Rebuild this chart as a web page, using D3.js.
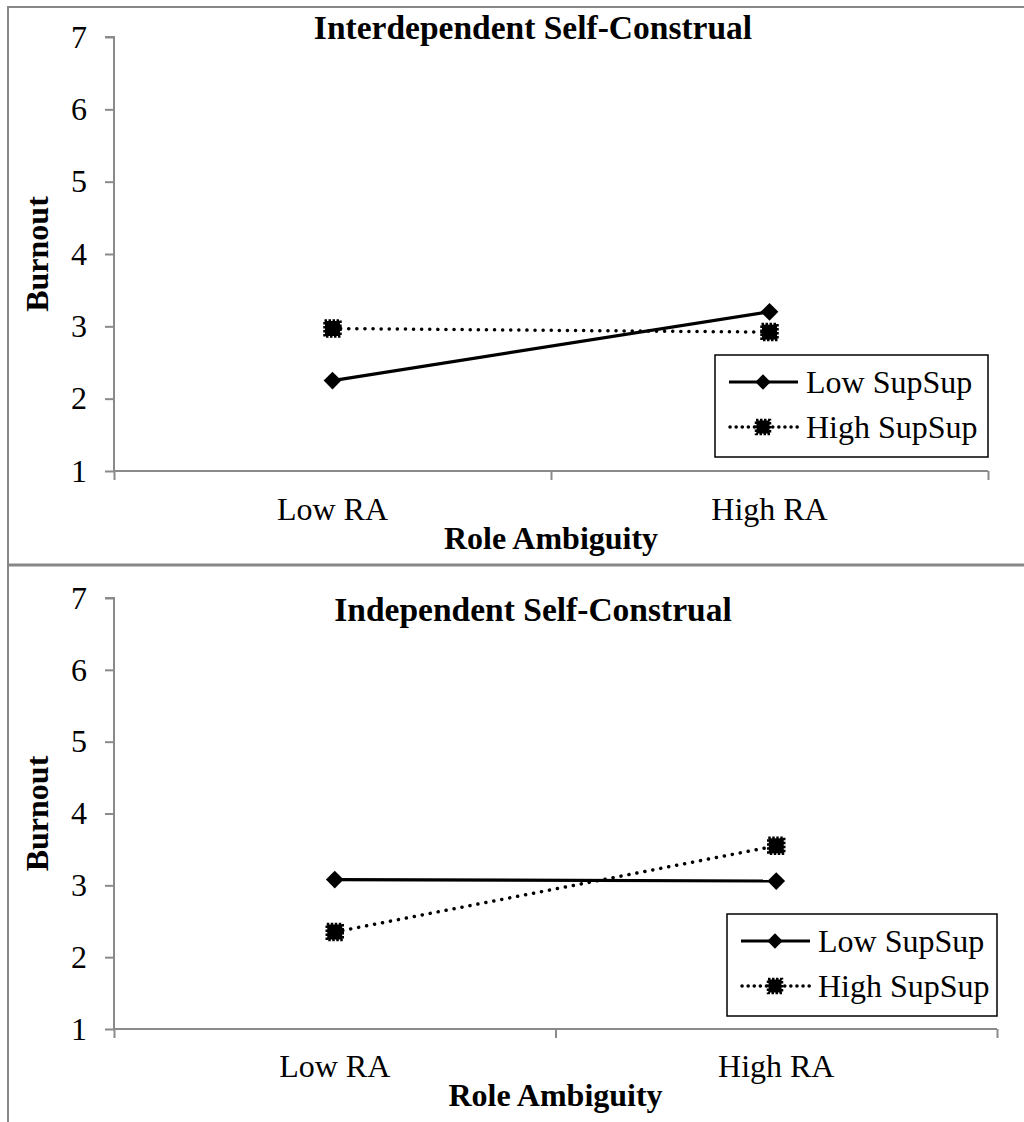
<!DOCTYPE html>
<html>
<head>
<meta charset="utf-8">
<script src="https://cdn.jsdelivr.net/npm/d3@7"></script>
<style>
  html, body { margin: 0; padding: 0; background: #fff; }
  svg { display: block; }
  svg text { font-family: "Liberation Serif", Tinos, "Times New Roman", Times, serif !important; fill: #000; }
</style>
</head>
<body>
<svg id="chart" width="1024" height="1122"></svg>
<script>
// ---- data ----
const categories = ["Low RA", "High RA"];
const yTicks = [1, 2, 3, 4, 5, 6, 7];
const seriesNames = ["Low SupSup", "High SupSup"];
const interdependentLow = [2.25, 3.20];
const interdependentHigh = [2.97, 2.92];
const independentLow = [3.08, 3.06];
const independentHigh = [2.35, 3.55];
const panelTitles = ["Interdependent Self-Construal", "Independent Self-Construal"];
const xTitle = "Role Ambiguity";
const yTitle = "Burnout";

// ---- layout ----
const svg = d3.select("#chart");
const frameColor = "#878787";
const axisColor = "#8a8a8a";
const fs = 32;
const fsTitle = 33.5;
const fsAxisTitle = 32;

// outer frame
svg.append("line").attr("x1", 8).attr("x2", 1024).attr("y1", 7).attr("y2", 7)
  .attr("stroke", frameColor).attr("stroke-width", 2);
svg.append("line").attr("x1", 8).attr("x2", 8).attr("y1", 6).attr("y2", 1122)
  .attr("stroke", frameColor).attr("stroke-width", 2);
svg.append("line").attr("x1", 8).attr("x2", 1024).attr("y1", 565).attr("y2", 565)
  .attr("stroke", frameColor).attr("stroke-width", 3);

const panels = [
  { title: panelTitles[0], low: interdependentLow, high: interdependentHigh,
    yTop: 37, yBot: 471, xL: 114, xR: 988, titleY: 39, xLabY: 520, xTitleY: 549,
    legTop: 355, legLeft: 715 },
  { title: panelTitles[1], low: independentLow, high: independentHigh,
    yTop: 598, yBot: 1029, xL: 114, xR: 997, titleY: 621, xLabY: 1077, xTitleY: 1106,
    legTop: 914, legLeft: 727 }
];

function diamond(g, x, y, area) {
  g.append("path")
    .attr("d", d3.symbol().type(d3.symbolDiamond2).size(area)())
    .attr("transform", `translate(${x},${y})`)
    .attr("fill", "#000");
}
function squareMark(g, x, y, s) {
  g.append("rect").attr("x", x - s / 2).attr("y", y - s / 2)
    .attr("width", s).attr("height", s).attr("fill", "#000");
  g.append("rect").attr("x", x - s / 2 - 0.5).attr("y", y - s / 2 - 0.5)
    .attr("width", s + 1).attr("height", s + 1).attr("fill", "none")
    .attr("stroke", "#000").attr("stroke-width", 2.5).attr("stroke-dasharray", "2.5,1.5");
}

panels.forEach(p => {
  const g = svg.append("g");
  const y = d3.scaleLinear().domain([1, 7]).range([p.yBot, p.yTop]);
  const xb = d3.scaleBand().domain(categories).range([p.xL, p.xR]).padding(0);
  const xl = d3.scaleLinear().domain([0, categories.length]).range([p.xL, p.xR]);
  const cx = d => xb(d) + xb.bandwidth() / 2;

  // y axis
  const ya = g.append("g").attr("transform", `translate(${p.xL},0)`)
    .call(d3.axisLeft(y).tickValues(yTicks).tickSize(9).tickPadding(18).tickFormat(d3.format("d")));
  ya.attr("font-family", null).attr("font-size", null);
  ya.select(".domain").attr("stroke", axisColor).attr("stroke-width", 2)
    .attr("d", `M-9,${p.yTop}H0V${p.yBot}`);
  ya.selectAll(".tick line").attr("stroke", axisColor).attr("stroke-width", 2);
  ya.selectAll(".tick text").style("font-size", fs + "px").attr("fill", "#000");

  // x axis
  const xa = g.append("g").attr("transform", `translate(0,${p.yBot})`)
    .call(d3.axisBottom(xl).tickValues(d3.range(categories.length + 1)).tickSize(9).tickFormat(""));
  xa.attr("font-family", null).attr("font-size", null);
  xa.select(".domain").attr("stroke", axisColor).attr("stroke-width", 2)
    .attr("d", `M${p.xL},0H${p.xR}`);
  xa.selectAll(".tick line").attr("stroke", axisColor).attr("stroke-width", 2);

  // category labels
  g.selectAll(".cat").data(categories).join("text")
    .attr("x", d => cx(d)).attr("y", p.xLabY).attr("text-anchor", "middle")
    .style("font-size", fs + "px").text(d => d);

  // titles
  g.append("text").attr("x", 533).attr("y", p.titleY).attr("text-anchor", "middle")
    .style("font-size", fsTitle + "px").style("font-weight", "bold").text(p.title);
  g.append("text").attr("x", (p.xL + p.xR) / 2).attr("y", p.xTitleY).attr("text-anchor", "middle")
    .style("font-size", fsAxisTitle + "px").style("font-weight", "bold").text(xTitle);
  g.append("text")
    .attr("transform", `translate(48,${(p.yTop + p.yBot) / 2}) rotate(-90)`)
    .attr("text-anchor", "middle")
    .style("font-size", fsAxisTitle + "px").style("font-weight", "bold").text(yTitle);

  // lines
  const line = d3.line().x((d, i) => cx(categories[i])).y(d => y(d));
  g.append("path").datum(p.high).attr("d", line).attr("fill", "none")
    .attr("stroke", "#000").attr("stroke-width", 3.5)
    .attr("stroke-dasharray", "0.1,8").attr("stroke-linecap", "round");
  g.append("path").datum(p.low).attr("d", line).attr("fill", "none")
    .attr("stroke", "#000").attr("stroke-width", 3.2);
  p.high.forEach((v, i) => squareMark(g, cx(categories[i]), y(v), 15));
  p.low.forEach((v, i) => diamond(g, cx(categories[i]), y(v), 200));

  // legend
  const lw = p.xR - p.legLeft, lh = 102;
  const lg = g.append("g").attr("transform", `translate(${p.legLeft},${p.legTop})`);
  lg.append("rect").attr("x", 0).attr("y", 0).attr("width", lw).attr("height", lh)
    .attr("fill", "#fff").attr("stroke", "#000").attr("stroke-width", 1.5);
  const rows = [27, 72];
  lg.append("line").attr("x1", 14).attr("x2", 83).attr("y1", rows[0]).attr("y2", rows[0])
    .attr("stroke", "#000").attr("stroke-width", 3.2);
  diamond(lg, 48, rows[0], 150);
  lg.append("text").attr("x", 91).attr("y", rows[0]).attr("dy", "0.33em")
    .style("font-size", fs + "px").text(seriesNames[0]);
  lg.append("line").attr("x1", 15).attr("x2", 83).attr("y1", rows[1]).attr("y2", rows[1])
    .attr("stroke", "#000").attr("stroke-width", 3.5)
    .attr("stroke-dasharray", "0.1,6").attr("stroke-linecap", "round");
  squareMark(lg, 48, rows[1], 13);
  lg.append("text").attr("x", 91).attr("y", rows[1]).attr("dy", "0.33em")
    .style("font-size", fs + "px").text(seriesNames[1]);
});
</script>
</body>
</html>
